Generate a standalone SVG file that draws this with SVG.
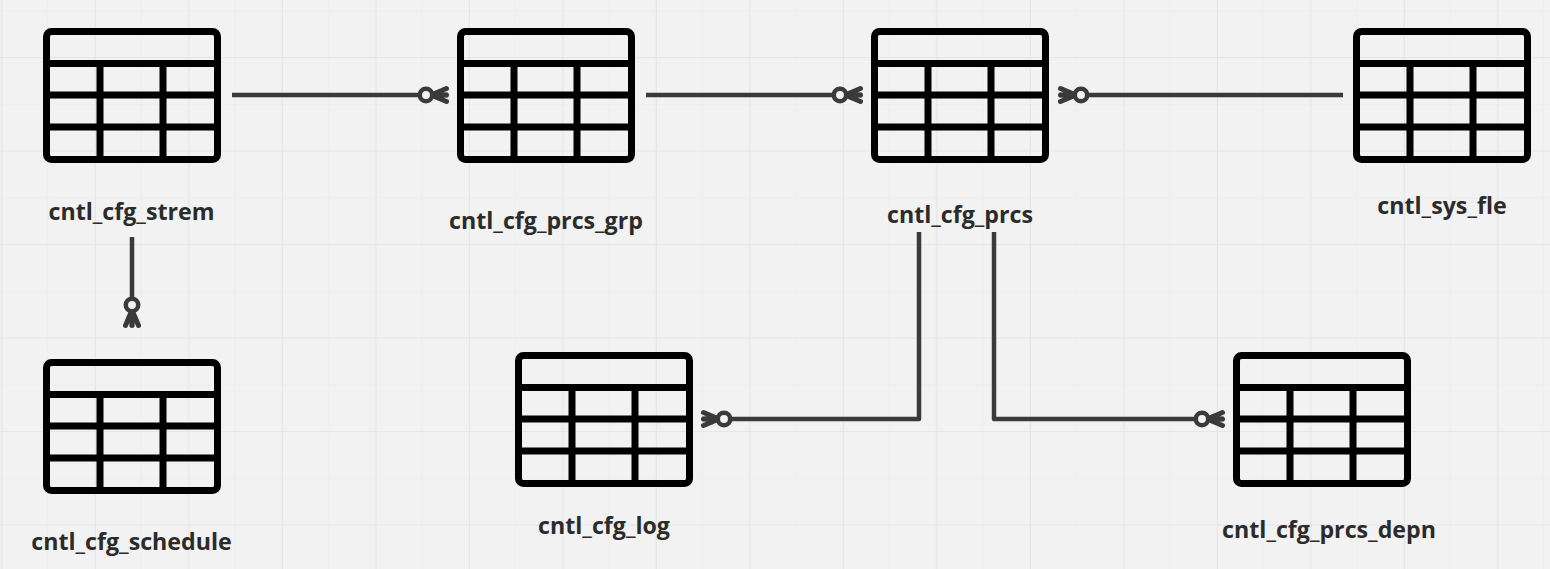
<svg xmlns="http://www.w3.org/2000/svg" width="1550" height="569" viewBox="0 0 1550 569">
<style>
.lbl{font-family:"Open Sans","Noto Sans",sans-serif;font-weight:700;font-size:23.200px;fill:#2b2b2b;text-anchor:middle}
.c{fill:none;stroke:#3a3a3a;stroke-width:4.500;stroke-linejoin:round;marker-end:url(#crow)}
.t{fill:none;stroke:#000;stroke-width:7}
</style>
<defs>
<pattern id="minor" width="46.75" height="46.75" patternUnits="userSpaceOnUse" x="0.5" y="10.5"><path d="M0 0H46.75M0 0V46.75" fill="none" stroke="#ececec" stroke-width="1"/></pattern>
<pattern id="major" width="93.5" height="93.5" patternUnits="userSpaceOnUse" x="1.5" y="57"><path d="M0 0H93.5M0 0V93.5" fill="none" stroke="#e6e6e6" stroke-width="2"/></pattern>
<marker id="crow" markerUnits="userSpaceOnUse" markerWidth="34" markerHeight="26" refX="30" refY="13" orient="auto">
<path d="M13 13L28.500 6.500M13 13H28.500M13 13L28.500 19.500" fill="none" stroke="#3a3a3a" stroke-width="5" stroke-linecap="round"/>
<circle cx="8" cy="13" r="6.200" fill="#f2f2f2" stroke="#3a3a3a" stroke-width="4.500"/>
</marker>
<g id="tbl">
<rect class="t" x="3.500" y="3.500" width="171" height="128" rx="5"/>
<path class="t" d="M3.500 35.500H174.500M3.500 67H174.500M3.500 99H174.500M57 35.500V131.500M120 35.500V131.500"/>
</g>
</defs>
<rect width="1550" height="569" fill="#f2f2f2"/>
<rect width="1550" height="569" fill="url(#minor)"/>
<rect width="1550" height="569" fill="url(#major)"/>
<g id="connectors">
<path class="c" d="M232 95H448"/>
<path class="c" d="M646 95H862"/>
<path class="c" d="M1343 95H1059"/>
<path class="c" d="M132 237V327"/>
<path class="c" d="M919 232V419H702"/>
<path class="c" d="M994 232V419H1224"/>
</g>
<g id="cntl_cfg_strem"><use href="#tbl" x="43" y="28"/><text class="lbl" x="131.500" y="219.700">cntl_cfg_strem</text></g>
<g id="cntl_cfg_prcs_grp"><use href="#tbl" x="457" y="28"/><text class="lbl" x="546" y="228.500">cntl_cfg_prcs_grp</text></g>
<g id="cntl_cfg_prcs"><use href="#tbl" x="871" y="28"/><text class="lbl" x="960" y="222.700">cntl_cfg_prcs</text></g>
<g id="cntl_sys_fle"><use href="#tbl" x="1353" y="28"/><text class="lbl" x="1442" y="213.700">cntl_sys_fle</text></g>
<g id="cntl_cfg_schedule"><use href="#tbl" x="43" y="359"/><text class="lbl" x="131.500" y="549.700">cntl_cfg_schedule</text></g>
<g id="cntl_cfg_log"><use href="#tbl" x="515" y="352"/><text class="lbl" x="604" y="533.500">cntl_cfg_log</text></g>
<g id="cntl_cfg_prcs_depn"><use href="#tbl" x="1233" y="352"/><text class="lbl" x="1329" y="537.700">cntl_cfg_prcs_depn</text></g>
</svg>
